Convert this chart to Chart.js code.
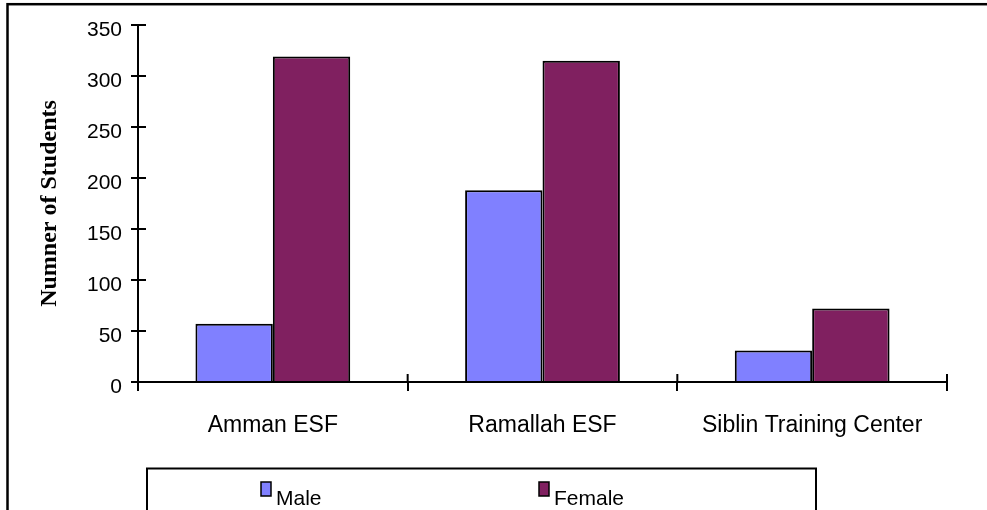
<!DOCTYPE html>
<html><head><meta charset="utf-8">
<script src="https://cdn.jsdelivr.net/npm/chart.js@4.4.0/dist/chart.umd.min.js"></script>
<style>html,body{margin:0;padding:0;background:#fff;}#wrap{width:987px;height:510px;position:relative;overflow:hidden;}canvas{display:block;}</style>
</head><body><div id="wrap"><canvas id="c" width="987" height="510"></canvas></div>
<script>
const categories = ['Amman ESF', 'Ramallah ESF', 'Siblin Training Center'];
const seriesNames = ['Male', 'Female'];
const maleValues = [57, 188, 31];
const femaleValues = [319, 315, 72];
const yTicks = [0, 50, 100, 150, 200, 250, 300, 350];
const yTitle = 'Numner of Students';
const seriesColors = ['#8080ff', '#802060'];

const SANS = '"Liberation Sans", Arial, sans-serif';
const SERIF = '"Liberation Serif", "Times New Roman", serif';

const extras = {
  id: 'extras',
  afterDraw(chart) {
    const ctx = chart.ctx, xs = chart.scales.x, ys = chart.scales.y, a = chart.chartArea;
    ctx.save();
    ctx.strokeStyle = '#000';
    ctx.lineWidth = 2;
    // inner halves of y ticks
    yTicks.forEach(v => {
      const py = ys.getPixelForValue(v);
      ctx.beginPath(); ctx.moveTo(a.left, py); ctx.lineTo(a.left + 8, py); ctx.stroke();
    });
    // inner halves of x category boundary ticks
    for (let i = 0; i <= categories.length; i++) {
      const px = xs.getPixelForValue(i - 0.5);
      ctx.beginPath(); ctx.moveTo(px, a.bottom); ctx.lineTo(px, a.bottom - 8); ctx.stroke();
    }
    // outer frame
    ctx.lineWidth = 2.5;
    ctx.strokeRect(7.5, 4.2, 2000, 2000);
    // legend box
    ctx.lineWidth = 2;
    ctx.strokeRect(147, 468.5, 669, 100);
    // legend items
    const itemX = [261, 539];
    chart.data.datasets.forEach((ds, i) => {
      const bx = itemX[i];
      ctx.fillStyle = ds.backgroundColor;
      ctx.fillRect(bx, 482, 10, 14);
      ctx.lineWidth = 1.5;
      ctx.strokeStyle = '#000';
      ctx.strokeRect(bx, 482, 10, 14);
      ctx.fillStyle = '#000';
      ctx.font = '21px ' + SANS;
      ctx.textBaseline = 'alphabetic';
      ctx.textAlign = 'left';
      ctx.fillText(ds.label, bx + 15, 505);
    });
    ctx.restore();
  }
};

new Chart(document.getElementById('c'), {
  type: 'bar',
  data: {
    labels: categories,
    datasets: [
      { label: seriesNames[0], data: maleValues, backgroundColor: seriesColors[0], borderColor: '#000', borderWidth: 2 },
      { label: seriesNames[1], data: femaleValues, backgroundColor: seriesColors[1], borderColor: '#000', borderWidth: 2 }
    ]
  },
  options: {
    responsive: false,
    animation: false,
    devicePixelRatio: 1,
    layout: { padding: { left: 0, right: 40, top: 25, bottom: 0 } },
    datasets: { bar: { categoryPercentage: 0.574, barPercentage: 1.0 } },
    plugins: { legend: { display: false }, tooltip: { enabled: false } },
    scales: {
      x: {
        border: { color: '#000', width: 2 },
        grid: { display: true, drawOnChartArea: false, color: '#000', lineWidth: 2, tickLength: 9, offset: true },
        ticks: { color: '#000', font: { family: SANS, size: 23 }, padding: 21, maxRotation: 0, autoSkip: false },
        afterFit(s) { s.height = 128; }
      },
      y: {
        min: 0, max: 350,
        border: { color: '#000', width: 2 },
        grid: { display: true, drawOnChartArea: false, color: '#000', lineWidth: 2, tickLength: 7 },
        ticks: { color: '#000', font: { family: SANS, size: 21 }, stepSize: 50, padding: 9, labelOffset: 5 },
        afterBuildTicks(s) { s.ticks = yTicks.map(v => ({ value: v })); },
        title: { display: true, text: yTitle, color: '#000', font: { family: SERIF, size: 24, weight: 'bold', lineHeight: 1 }, padding: { top: 38, bottom: 0 } },
        afterFit(s) { s.width = 138; }
      }
    }
  },
  plugins: [extras]
});
</script></body></html>
